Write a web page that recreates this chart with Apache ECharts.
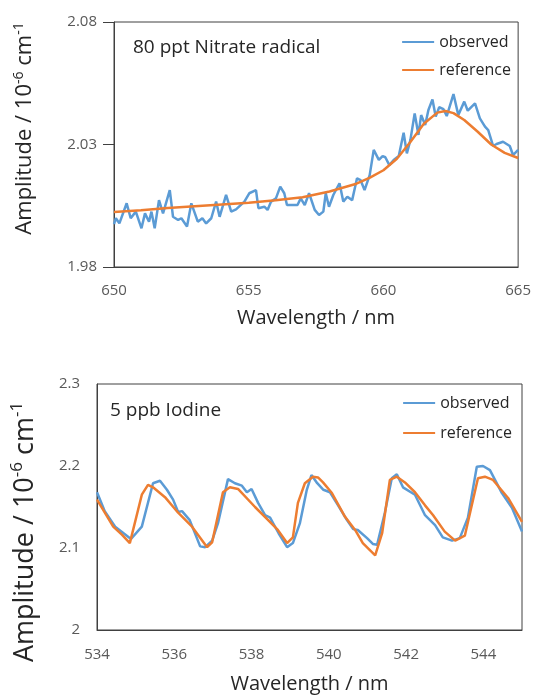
<!DOCTYPE html>
<html>
<head>
<meta charset="utf-8">
<script src="https://cdn.jsdelivr.net/npm/echarts@6/dist/echarts.min.js"></script>
<style>
html,body{margin:0;padding:0;background:#fff;}
#chart{width:534px;height:695px;}
</style>
</head>
<body>
<div id="chart"></div>
<script>
// ---- Top panel: 80 ppt Nitrate radical ----
const obs1X = [650.0,650.07,650.2,650.47,650.62,650.81,651.02,651.15,651.3,651.39,651.51,651.67,651.82,652.07,652.19,652.38,652.5,652.71,652.87,653.11,653.28,653.42,653.61,653.79,653.92,654.16,654.35,654.53,654.84,655.02,655.27,655.36,655.58,655.70,655.83,656.01,656.17,656.32,656.42,656.62,656.81,656.93,657.08,657.24,657.45,657.61,657.77,657.86,657.98,658.14,658.37,658.51,658.66,658.84,659.02,659.15,659.30,659.49,659.64,659.83,659.97,660.07,660.22,660.38,660.57,660.75,660.87,661.0,661.16,661.3,661.4,661.55,661.67,661.82,661.94,662.07,662.23,662.35,662.60,662.78,663.0,663.13,663.40,663.58,663.77,663.89,664.07,664.2,664.44,664.69,664.81,665.0];
const obs1Y = [1.9975,1.9999,1.9978,2.0060,1.9999,2.0026,1.9958,2.0019,1.9985,2.0026,1.9958,2.0073,2.0019,2.0114,2.0005,1.9992,1.9999,1.9965,2.0060,1.9985,1.9999,1.9978,1.9999,2.0067,2.0005,2.0094,2.0026,2.0035,2.0067,2.0101,2.0114,2.0040,2.0046,2.0033,2.0067,2.0080,2.0128,2.0101,2.0053,2.0053,2.0053,2.0080,2.0053,2.0101,2.0033,2.0012,2.0026,2.0101,2.0046,2.0094,2.0142,2.0067,2.0087,2.0073,2.0162,2.0155,2.0114,2.0175,2.0278,2.0237,2.0253,2.0248,2.0216,2.0237,2.0253,2.0348,2.0264,2.0318,2.0427,2.0339,2.0420,2.0380,2.0441,2.0484,2.0414,2.0452,2.0444,2.0416,2.0506,2.0420,2.0475,2.0438,2.0468,2.0407,2.0373,2.0359,2.0294,2.0302,2.0311,2.0294,2.0257,2.0278];
const ref1X = [650,651,652,653,654,655,656,657,658,659,659.5,660,660.5,661,661.5,662,662.3,662.6,663,663.5,664,664.5,665];
const ref1Y = [2.0024,2.0032,2.0041,2.0048,2.0055,2.0062,2.0072,2.0085,2.0108,2.0140,2.0165,2.0195,2.0242,2.0310,2.0385,2.0430,2.0437,2.0428,2.0400,2.0352,2.0300,2.0266,2.0245];
const x1Ticks = [650,655,660,665];
const y1Ticks = [1.98,2.03,2.08];

// ---- Bottom panel: 5 ppb Iodine ----
const obs2X = [534.0,534.2,534.47,534.88,535.16,535.45,535.63,535.81,535.97,536.1,536.2,536.4,536.67,536.8,536.98,537.13,537.39,537.57,537.75,537.88,538.0,538.17,538.35,538.48,538.7,538.92,539.07,539.25,539.43,539.55,539.7,539.86,540.03,540.24,540.47,540.63,540.75,540.99,541.14,541.25,541.45,541.63,541.76,541.92,542.23,542.49,542.75,542.95,543.19,543.39,543.6,543.83,543.99,544.17,544.48,544.74,545.0];
const obs2Y = [2.168,2.145,2.126,2.111,2.126,2.179,2.182,2.171,2.159,2.144,2.145,2.134,2.102,2.101,2.109,2.130,2.184,2.179,2.176,2.168,2.172,2.155,2.140,2.137,2.118,2.101,2.106,2.130,2.171,2.189,2.179,2.171,2.168,2.152,2.134,2.123,2.122,2.112,2.105,2.104,2.143,2.185,2.190,2.174,2.165,2.140,2.128,2.113,2.109,2.112,2.137,2.199,2.200,2.195,2.167,2.149,2.120];
const ref2X = [534.0,534.42,534.65,534.85,535.16,535.32,535.45,535.76,536.1,536.46,536.85,536.98,537.26,537.44,537.65,538.09,538.43,538.68,538.92,539.07,539.2,539.38,539.59,539.72,539.85,540.08,540.42,540.68,540.88,541.2,541.38,541.58,541.76,541.97,542.23,542.49,542.7,543.0,543.27,543.52,543.86,544.04,544.25,544.64,545.0];
const ref2Y = [2.159,2.126,2.116,2.106,2.165,2.177,2.174,2.162,2.143,2.126,2.101,2.107,2.168,2.174,2.172,2.150,2.134,2.122,2.106,2.113,2.155,2.179,2.187,2.186,2.180,2.167,2.138,2.122,2.106,2.091,2.118,2.183,2.187,2.180,2.168,2.152,2.140,2.120,2.109,2.115,2.185,2.187,2.183,2.161,2.132];
const x2Ticks = [534,536,538,540,542,544];
const y2Ticks = [2,2.1,2.2,2.3];

const seriesNames = ['observed','reference'];
const titles = ['80 ppt Nitrate radical','5 ppb Iodine'];
const xName = 'Wavelength / nm';
const yName = 'Amplitude / 10{sup|-6} cm{sup|-1}';

const BLUE = '#5B9BD5', ORANGE = '#ED7D31', AX = '#404040', TXT = '#595959', DARK = '#262626';
const FONT = 'Open Sans';
const pairs = (xs, ys) => xs.map((x, i) => [x, ys[i]]);

function xAxisCfg(grid, min, max, ticks, gap, margin) {
  return {
    gridIndex: grid, type: 'value', min: min, max: max,
    axisLine: {show: true, lineStyle: {color: AX, width: 1}},
    axisTick: {show: false},
    splitLine: {show: false},
    axisLabel: {color: TXT, fontSize: 15, fontFamily: FONT, margin: margin, customValues: ticks},
    name: xName, nameLocation: 'middle', nameGap: gap,
    nameTextStyle: {fontSize: 20, color: DARK, fontFamily: FONT}
  };
}
function yAxisCfg(grid, min, max, ticks, fmt, tick, gap, fs, pad) {
  return {
    gridIndex: grid, type: 'value', min: min, max: max,
    axisLine: {show: true, lineStyle: {color: AX, width: 1}},
    axisTick: {show: tick, length: 11, inside: false, lineStyle: {color: AX}, customValues: ticks},
    splitLine: {show: false},
    axisLabel: {color: TXT, fontSize: 15, fontFamily: FONT, margin: 17, customValues: ticks, formatter: fmt},
    name: yName, nameLocation: 'middle', nameGap: gap, nameRotate: 90,
    nameTextStyle: {fontSize: fs, color: DARK, fontFamily: FONT, padding: pad,
      rich: {sup: {fontSize: Math.round(fs * 0.62), color: DARK, fontFamily: FONT, padding: [0, 0, Math.round(fs*0.55), 0]}}}
  };
}
function legendCfg(top, right, gap) {
  return {
    data: seriesNames, orient: 'vertical', right: right, top: top, padding: 0,
    itemWidth: 32, itemHeight: 14, itemGap: gap, icon: 'path://M0,6 L32,6 L32,8 L0,8 Z',
    textStyle: {color: DARK, fontSize: 16, fontFamily: FONT}
  };
}
function lineSeries(name, x, y, xi, color) {
  return {
    name: name, type: 'line', xAxisIndex: xi, yAxisIndex: xi,
    data: pairs(x, y), showSymbol: false, symbol: 'none',
    lineStyle: {color: color, width: 2.5}, itemStyle: {color: color}
  };
}

const chart = echarts.init(document.getElementById('chart'), null, {renderer: 'canvas'});
chart.setOption({
  animation: false,
  backgroundColor: '#fff',
  textStyle: {fontFamily: FONT},
  title: [
    {text: titles[0], left: 128, top: 33, textStyle: {fontSize: 19, fontWeight: 'normal', color: DARK, fontFamily: FONT}},
    {text: titles[1], left: 105, top: 396, textStyle: {fontSize: 19, fontWeight: 'normal', color: DARK, fontFamily: FONT}}
  ],
  legend: [legendCfg(34, 23, 12), legendCfg(395, 22, 14)],
  grid: [
    {left: 114, top: 22, width: 406, height: 245, show: true, borderColor: AX, borderWidth: 1, backgroundColor: 'transparent'},
    {left: 97, top: 384, width: 425, height: 246, show: true, borderColor: AX, borderWidth: 1, backgroundColor: 'transparent'}
  ],
  xAxis: [xAxisCfg(0, 650, 665, x1Ticks, 41, 16), xAxisCfg(1, 534, 545, x2Ticks, 44, 17)],
  yAxis: [
    yAxisCfg(0, 1.98, 2.08, y1Ticks, v => v.toFixed(2), true, 76, 22, [0, 0, 0, 32]),
    yAxisCfg(1, 2, 2.3, y2Ticks, v => String(parseFloat(v.toFixed(1))), false, 56, 27, [0, 50, 0, 0])
  ],
  series: [
    lineSeries(seriesNames[0], obs1X, obs1Y, 0, BLUE),
    lineSeries(seriesNames[1], ref1X, ref1Y, 0, ORANGE),
    lineSeries(seriesNames[0], obs2X, obs2Y, 1, BLUE),
    lineSeries(seriesNames[1], ref2X, ref2Y, 1, ORANGE)
  ]
});
</script>
</body>
</html>
